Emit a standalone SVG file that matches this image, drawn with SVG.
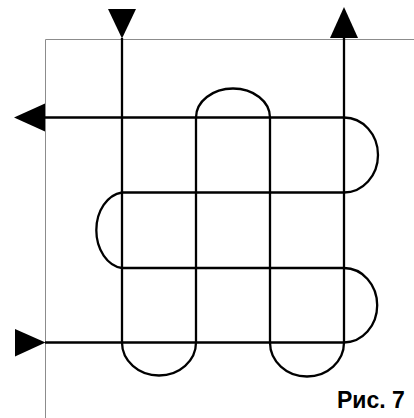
<svg xmlns="http://www.w3.org/2000/svg" width="414" height="418" viewBox="0 0 414 418">
<style>
.frame{fill:none;stroke:#8c8c8c;stroke-width:1}
.line{fill:none;stroke:#000;stroke-width:2.3;stroke-linejoin:round}
.arrow{fill:#000;stroke:none}
.label{font-family:"Liberation Sans",Arial,sans-serif;font-weight:bold;font-size:23px;fill:#000}
</style>
<rect width="414" height="418" fill="#fff"/>
<g id="frame">
<path class="frame" d="M45.5,418 V39.5 H414"/>
</g>
<g id="connectors">
<path id="horizontal-path" class="line" d="M45,342.5 H344 A33,37 0 0 0 344,268 H122 A29,38 0 0 1 122,192.5 H344 A34,37.5 0 0 0 344,117.5 H45"/>
<path id="vertical-path" class="line" d="M122,38 V342.5 A37,33 0 0 0 196,342.5 V117.5 A37,29 0 0 1 270,117.5 V342.5 A37,34 0 0 0 344,342.5 V36"/>
</g>
<g id="arrows">
<polygon id="arrow-left-exit" class="arrow" points="14,117.5 45,103.5 45,131.5"/>
<polygon id="arrow-top-entry" class="arrow" points="108,9 136,9 122,38.5"/>
<polygon id="arrow-top-exit" class="arrow" points="344,7 330,38 358,38"/>
<polygon id="arrow-left-entry" class="arrow" points="15,329 45.5,342.5 15,356.5"/>
</g>
<g id="caption">
<text class="label" x="337" y="408">Рис. 7</text>
</g>
</svg>
